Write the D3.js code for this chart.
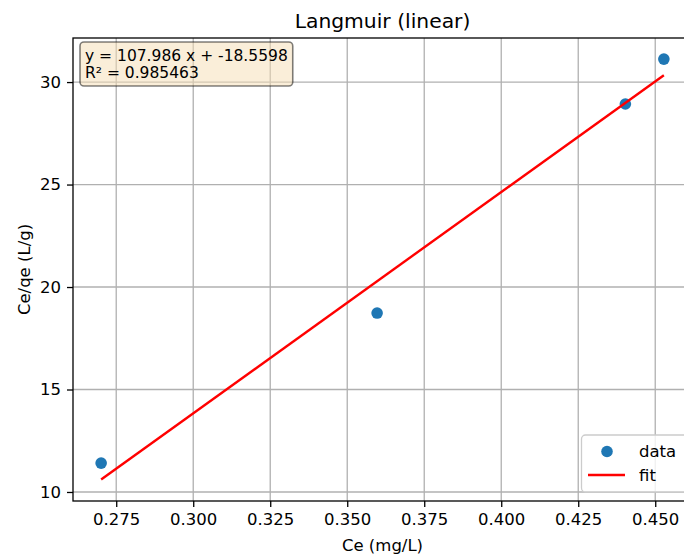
<!DOCTYPE html>
<html>
<head>
<meta charset="utf-8">
<script src="https://cdn.jsdelivr.net/npm/d3@7"></script>
<style>
  html, body { margin: 0; padding: 0; background: #fff; }
  svg { display: block; font-family: "DejaVu Sans", sans-serif; }
</style>
</head>
<body>
<svg id="chart" width="684" height="558"></svg>
<script>
// Langmuir linearised isotherm: Ce vs Ce/qe with least-squares fit
const ceValues = [0.2701, 0.3597, 0.4403, 0.4528];
const ceOverQe = [11.41, 18.73, 28.93, 31.12];
const fitSlope = 107.986;
const fitIntercept = -18.5598;
const fitR2 = 0.985463;
const xTicks = [0.275, 0.300, 0.325, 0.350, 0.375, 0.400, 0.425, 0.450];
const yTicks = [10, 15, 20, 25, 30];

const svg = d3.select("#chart");
const margin = { left: 73, top: 38, right: 692, bottom: 501 };

// axis limits with 5% padding around the data
const xMin = d3.min(ceValues), xMax = d3.max(ceValues);
const xPad = (xMax - xMin) * 0.05;
const x = d3.scaleLinear().domain([xMin - xPad, xMax + xPad]).range([margin.left, margin.right]);
const y = d3.scaleLinear().domain([9.56, 32.15]).range([margin.bottom, margin.top]);

const g = svg.append("g");

// grid
g.append("g").selectAll("line").data(xTicks).join("line")
  .attr("x1", d => x(d)).attr("x2", d => x(d))
  .attr("y1", margin.top).attr("y2", margin.bottom)
  .attr("stroke", "#b0b0b0").attr("stroke-width", 1.3);
g.append("g").selectAll("line").data(yTicks).join("line")
  .attr("y1", d => y(d)).attr("y2", d => y(d))
  .attr("x1", margin.left).attr("x2", margin.right)
  .attr("stroke", "#b0b0b0").attr("stroke-width", 1.3);

// axes
const xAxis = d3.axisBottom(x).tickValues(xTicks).tickFormat(d3.format(".3f")).tickSize(6).tickPadding(6);
const yAxis = d3.axisLeft(y).tickValues(yTicks).tickFormat(d3.format("d")).tickSize(6).tickPadding(6);
const gx = g.append("g").attr("transform", `translate(0,${margin.bottom})`).call(xAxis);
const gy = g.append("g").attr("transform", `translate(${margin.left},0)`).call(yAxis);
[gx, gy].forEach(a => {
  a.select(".domain").remove();
  a.selectAll(".tick line").attr("stroke", "#000").attr("stroke-width", 1.3);
  a.selectAll(".tick text").attr("font-size", 16.5).attr("fill", "#000").attr("font-family", "DejaVu Sans");
});

// spines
g.append("rect")
  .attr("x", margin.left).attr("y", margin.top)
  .attr("width", margin.right - margin.left).attr("height", margin.bottom - margin.top)
  .attr("fill", "none").attr("stroke", "#000").attr("stroke-width", 1.3);

// data points
g.append("g").selectAll("circle").data(ceValues).join("circle")
  .attr("cx", d => x(d)).attr("cy", (d, i) => y(ceOverQe[i]))
  .attr("r", 5.8).attr("fill", "#1f77b4");

// fitted line over the data range
const fitLine = d3.line().x(d => x(d)).y(d => y(fitSlope * d + fitIntercept));
g.append("path").datum([xMin, xMax]).attr("d", fitLine)
  .attr("fill", "none").attr("stroke", "#ff0000").attr("stroke-width", 2.4);

// title and axis labels
svg.append("text").attr("x", (margin.left + margin.right) / 2).attr("y", 28)
  .attr("text-anchor", "middle").attr("font-size", 20.3).text("Langmuir (linear)");
svg.append("text").attr("x", (margin.left + margin.right) / 2).attr("y", 551)
  .attr("text-anchor", "middle").attr("font-size", 16.5).text("Ce (mg/L)");
svg.append("text").attr("transform", `translate(30,${(margin.top + margin.bottom) / 2}) rotate(-90)`)
  .attr("text-anchor", "middle").attr("font-size", 16.5).text("Ce/qe (L/g)");

// equation box
const eqLines = [`y = ${fitSlope} x + ${fitIntercept}`, `R² = ${fitR2}`];
const box = svg.append("g");
const eqRect = box.append("rect").attr("rx", 4)
  .attr("fill", "#f5deb3").attr("fill-opacity", 0.5)
  .attr("stroke", "#000").attr("stroke-opacity", 0.5).attr("stroke-width", 1.6);
const eqText = box.append("text").attr("font-size", 15.5).attr("fill", "#000");
eqText.selectAll("tspan").data(eqLines).join("tspan")
  .attr("x", 85).attr("y", (d, i) => 61 + i * 17).text(d => d);
const bb = eqText.node().getBBox();
eqRect.attr("x", 80).attr("y", 42).attr("width", bb.width + 10).attr("height", 44);

// legend
const lg = svg.append("g");
lg.append("rect").attr("x", 581.5).attr("y", 435).attr("width", 110).attr("height", 57).attr("rx", 4)
  .attr("fill", "#fff").attr("fill-opacity", 0.8).attr("stroke", "#cccccc").attr("stroke-width", 1.3);
lg.append("circle").attr("cx", 607).attr("cy", 451.5).attr("r", 5.8).attr("fill", "#1f77b4");
lg.append("line").attr("x1", 588).attr("x2", 625).attr("y1", 475).attr("y2", 475)
  .attr("stroke", "#ff0000").attr("stroke-width", 2.4);
lg.append("text").attr("x", 639).attr("y", 457).attr("font-size", 16.5).text("data");
lg.append("text").attr("x", 639).attr("y", 481).attr("font-size", 16.5).text("fit");
</script>
</body>
</html>
